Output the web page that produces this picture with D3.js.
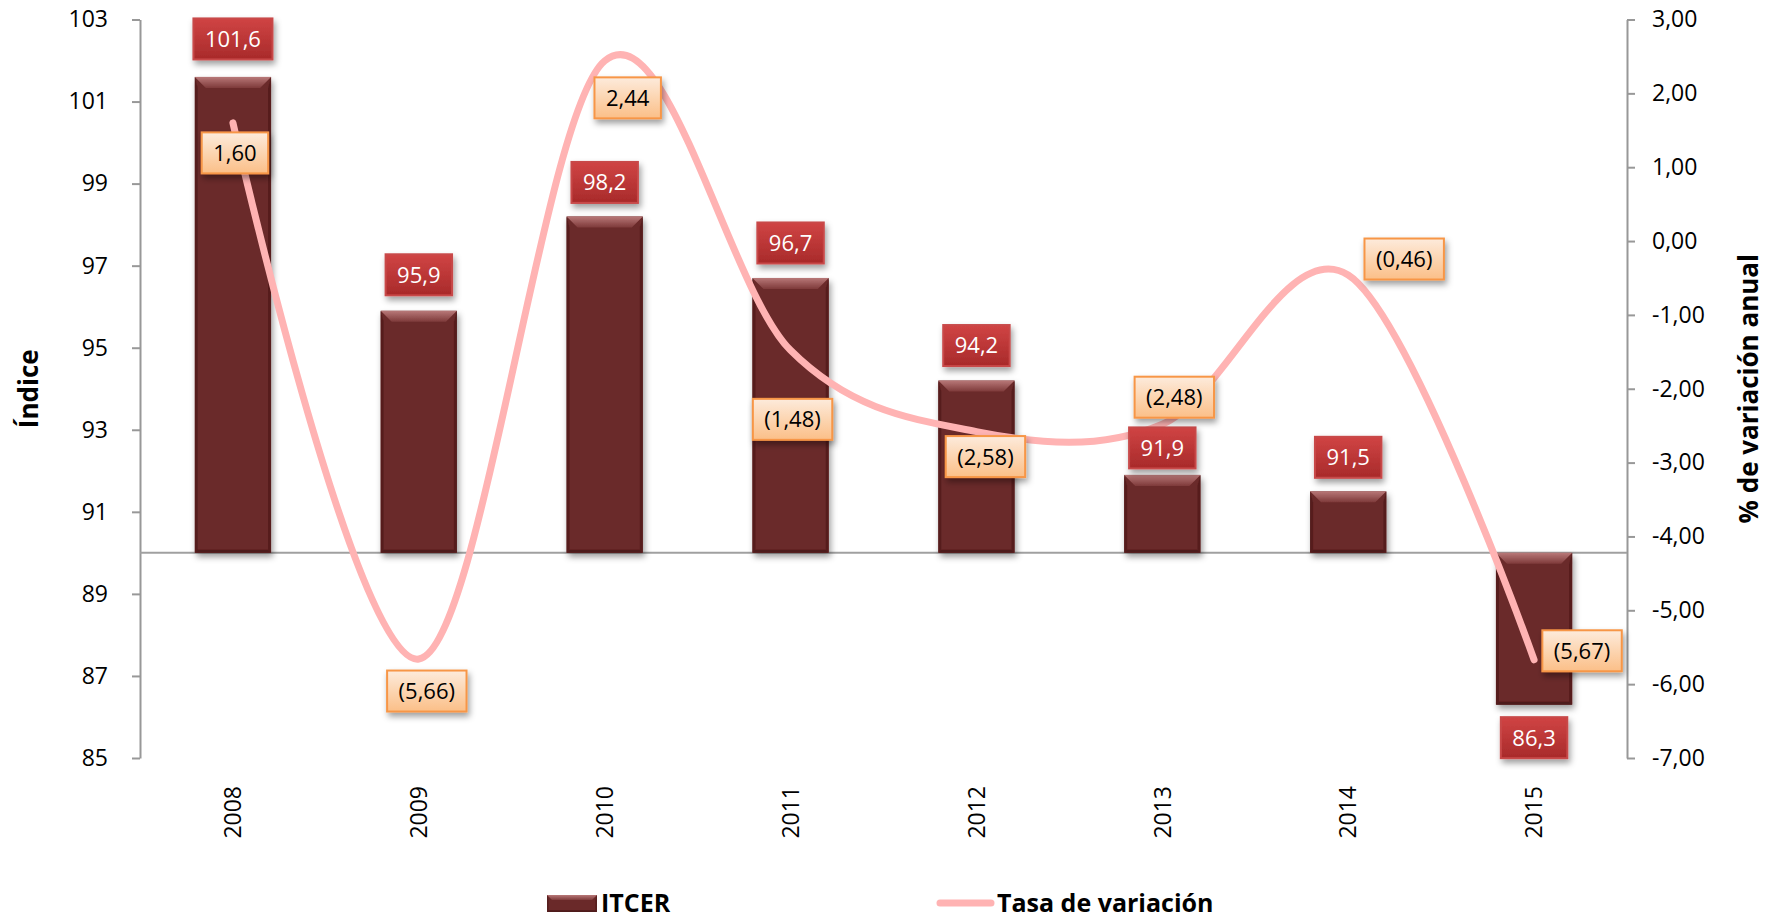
<!DOCTYPE html>
<html>
<head>
<meta charset="utf-8">
<script src="https://cdn.jsdelivr.net/npm/d3@7"></script>
<style>
  html, body { margin: 0; padding: 0; background: #ffffff; }
  svg { display: block; font-family: "Open Sans", "Noto Sans", sans-serif; }
</style>
</head>
<body>
<svg id="chart" width="1775" height="919"></svg>
<script>
// ---- data ----
const years = ["2008", "2009", "2010", "2011", "2012", "2013", "2014", "2015"];
const itcer = [101.6, 95.9, 98.2, 96.7, 94.2, 91.9, 91.5, 86.3];
const variation = [1.60, -5.66, 2.44, -1.48, -2.58, -2.48, -0.46, -5.67];
const leftTicks = [85, 87, 89, 91, 93, 95, 97, 99, 101, 103];
const rightTicks = [-7, -6, -5, -4, -3, -2, -1, 0, 1, 2, 3];
const seriesNames = ["ITCER", "Tasa de variación"];
const axisTitles = ["Índice", "% de variación anual"];

// ---- label placement (pixel offsets from each mark) ----
const itcerLabelDy = [-38, -36, -34, -35, -35, -27, -34, 33];
const varLabelOffset = [[2, 30], [8, 32], [23, 37], [2, 69], [9, 25], [12, -27], [56, -16], [48, -9]];

const svg = d3.select("#chart");
const plot = { left: 140, right: 1627, top: 19.5, bottom: 758 };

const x = d3.scaleBand().domain(years).range([plot.left, plot.right]).padding(0);
const yL = d3.scaleLinear().domain([85, 103]).range([plot.bottom, plot.top]);
const yR = d3.scaleLinear().domain([-7, 3]).range([plot.bottom, plot.top]);
const barW = x.bandwidth() * 0.41;
const cx = d => x(d) + x.bandwidth() / 2;

// ---- defs: shadows and gradients ----
const defs = svg.append("defs");
const shadow = defs.append("filter").attr("id", "shadow")
  .attr("x", "-20%").attr("y", "-20%").attr("width", "150%").attr("height", "150%");
shadow.append("feDropShadow").attr("dx", 2).attr("dy", 4).attr("stdDeviation", 3)
  .attr("flood-color", "#000").attr("flood-opacity", 0.38);

function grad(id, stops) {
  const g = defs.append("linearGradient").attr("id", id)
    .attr("x1", 0).attr("y1", 0).attr("x2", 0).attr("y2", 1);
  stops.forEach(([o, c]) => g.append("stop").attr("offset", o).attr("stop-color", c));
}
grad("bevelTop", [[0, "#b87878"], [1, "#7e3a3a"]]);
grad("redBox", [[0, "#d04444"], [1, "#a82a2a"]]);
grad("orangeBox", [[0, "#fdebdc"], [0.5, "#fcd5b1"], [1, "#fbbf88"]]);

// beveled bar drawing (light bevel at top edge, darker sides and bottom)
function bevelBar(g, x0, y0, w, h, b) {
  const x1 = x0 + w, y1 = y0 + h;
  g.append("rect").attr("x", x0).attr("y", y0).attr("width", w).attr("height", h).attr("fill", "#6a2929");
  const s = Math.min(3, b / 3);
  g.append("polygon").attr("fill", "#561f1f")
    .attr("points", [[x0, y0], [x0 + s, y0 + b], [x0 + s, y1 - s], [x0, y1]].join(" "));
  g.append("polygon").attr("fill", "#561f1f")
    .attr("points", [[x1, y0], [x1 - s, y0 + b], [x1 - s, y1 - s], [x1, y1]].join(" "));
  g.append("polygon").attr("fill", "#4e1b1b")
    .attr("points", [[x0, y1], [x0 + s, y1 - s], [x1 - s, y1 - s], [x1, y1]].join(" "));
  g.append("polygon").attr("fill", "url(#bevelTop)")
    .attr("points", [[x0, y0], [x1, y0], [x1 - b, y0 + b], [x0 + b, y0 + b]].join(" "));
}

// ---- axes ----
const fmtR = d => (d < 0 ? "-" : "") + Math.abs(d).toFixed(2).replace(".", ",");

const axL = svg.append("g").attr("transform", `translate(${plot.left},0)`)
  .call(d3.axisLeft(yL).tickValues(leftTicks).tickSize(8).tickSizeOuter(0).tickPadding(24));
const axR = svg.append("g").attr("transform", `translate(${plot.right},0)`)
  .call(d3.axisRight(yR).tickValues(rightTicks).tickFormat(fmtR).tickSize(8).tickSizeOuter(0).tickPadding(17));
[axL, axR].forEach(a => {
  a.selectAll("path, line").attr("stroke", "#989898").attr("stroke-width", 2);
  a.selectAll("text").attr("font-size", 23).attr("fill", "#000")
    .attr("font-family", "'Open Sans', sans-serif");
});

// category axis line at index 90 and year labels at the bottom
svg.append("line").attr("x1", plot.left).attr("x2", plot.right)
  .attr("y1", yL(90)).attr("y2", yL(90)).attr("stroke", "#a0a0a0").attr("stroke-width", 2);

svg.append("g").selectAll("text").data(years).join("text")
  .attr("transform", d => `translate(${cx(d)},786) rotate(-90)`)
  .attr("text-anchor", "end").attr("dy", "0.36em")
  .attr("font-size", 23).attr("fill", "#000").text(d => d);

// axis titles
svg.append("text").attr("transform", `translate(38,${(plot.top + plot.bottom) / 2}) rotate(-90)`)
  .attr("text-anchor", "middle").attr("font-size", 26).attr("font-weight", "bold").text(axisTitles[0]);
svg.append("text").attr("transform", `translate(1758,${(plot.top + plot.bottom) / 2}) rotate(-90)`)
  .attr("text-anchor", "middle").attr("font-size", 26).attr("font-weight", "bold").text(axisTitles[1]);

// ---- bars ----
const bars = svg.append("g");
years.forEach((yr, i) => {
  const v = itcer[i];
  const top = Math.min(yL(v), yL(90)), bot = Math.max(yL(v), yL(90));
  const g = bars.append("g").attr("filter", "url(#shadow)");
  bevelBar(g, cx(yr) - barW / 2, top, barW, bot - top, 11);
});

// ---- smoothed variation line ----
const line = d3.line().x((d, i) => cx(years[i])).y(d => yR(d)).curve(d3.curveCatmullRom.alpha(0));
svg.append("path").datum(variation).attr("d", line)
  .attr("fill", "none").attr("stroke", "#ffb3b3").attr("stroke-width", 7)
  .attr("stroke-linecap", "round").attr("stroke-linejoin", "round");

// ---- label boxes ----
function labelBox(parent, cxp, cyp, text, fill, stroke, color) {
  const g = parent.append("g");
  const t = g.append("text").attr("x", cxp).attr("y", cyp).attr("dy", "0.36em")
    .attr("text-anchor", "middle").attr("font-size", 22).attr("fill", color).text(text);
  const w = t.node().getComputedTextLength() + 23, h = 41;
  g.insert("rect", "text").attr("x", cxp - w / 2).attr("y", cyp - h / 2)
    .attr("width", w).attr("height", h).attr("fill", fill)
    .attr("stroke", stroke).attr("stroke-width", 2).attr("filter", "url(#shadow)");
}
const fmtIdx = v => v.toFixed(1).replace(".", ",");
const fmtVar = v => v < 0 ? "(" + Math.abs(v).toFixed(2).replace(".", ",") + ")" : v.toFixed(2).replace(".", ",");

const redLabels = svg.append("g");
years.forEach((yr, i) => {
  labelBox(redLabels, cx(yr), yL(itcer[i]) + itcerLabelDy[i], fmtIdx(itcer[i]), "url(#redBox)", "#c84848", "#fff");
});
const orangeLabels = svg.append("g");
years.forEach((yr, i) => {
  const [dx, dy] = varLabelOffset[i];
  labelBox(orangeLabels, cx(yr) + dx, yR(variation[i]) + dy, fmtVar(variation[i]), "url(#orangeBox)", "#f79646", "#000");
});

// ---- legend ----
const lg = svg.append("g");
const lgBar = lg.append("g");
bevelBar(lgBar, 547, 895, 50, 17, 5);
lg.append("text").attr("x", 601).attr("y", 903).attr("dy", "0.35em")
  .attr("font-size", 25).attr("font-weight", "bold").text(seriesNames[0]);
lg.append("line").attr("x1", 940).attr("x2", 991).attr("y1", 903).attr("y2", 903)
  .attr("stroke", "#ffb3b3").attr("stroke-width", 7).attr("stroke-linecap", "round");
lg.append("text").attr("x", 997).attr("y", 903).attr("dy", "0.35em")
  .attr("font-size", 25).attr("font-weight", "bold").text(seriesNames[1]);
</script>
</body>
</html>
